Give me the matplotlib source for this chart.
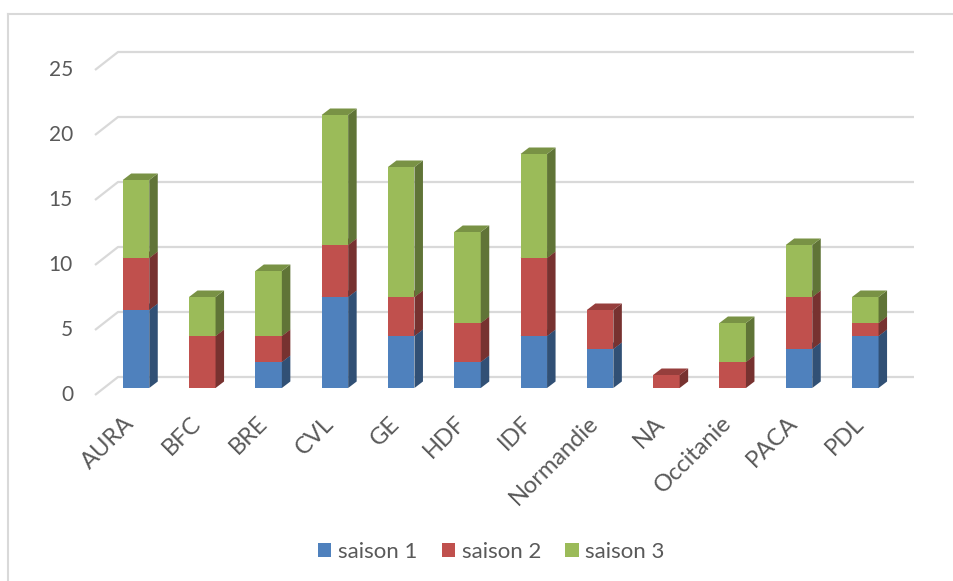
import numpy as np
import matplotlib.pyplot as plt
from matplotlib.patches import Polygon, Rectangle, Patch
from matplotlib.lines import Line2D
import matplotlib.colors as mcolors

plt.rcParams['font.family'] = ['Lato', 'DejaVu Sans']

# data
regions = ['AURA', 'BFC', 'BRE', 'CVL', 'GE', 'HDF', 'IDF', 'Normandie', 'NA',
           'Occitanie', 'PACA', 'PDL']
saison1 = [6, 0, 2, 7, 4, 2, 4, 3, 0, 0, 3, 4]
saison2 = [4, 4, 2, 4, 3, 3, 6, 3, 1, 2, 4, 1]
saison3 = [6, 3, 5, 10, 10, 7, 8, 0, 0, 3, 4, 2]
series_names = ['saison 1', 'saison 2', 'saison 3']
colors = ['#4F81BD', '#C0504D', '#9BBB59']
yticks = [0, 5, 10, 15, 20, 25]

text_col = '#595959'
grid_col = '#D9D9D9'


def shade(c, f):
    r, g, b = mcolors.to_rgb(c)
    return (r * f, g * f, b * f)


# axis setup so that one category step ~ 66 px and one unit ~ 13 px
fig = plt.figure(figsize=(9.54, 5.81), dpi=100)
ax = fig.add_axes([0, 0, 1, 1])
step_px = 66.3
unit_px = 13.0
x0_px = 136.0   # first category centre
y0_px = 388.0   # zero level of bar front
ax.set_xlim(-x0_px / step_px, (954 - x0_px) / step_px)
ax.set_ylim(-(581 - y0_px) / unit_px, y0_px / unit_px)
ax.axis('off')

px = 1.0 / step_px   # one pixel in x data
py = 1.0 / unit_px   # one pixel in y data

# chart frame
ax.add_line(Line2D([(8 - x0_px) * px, 20], [(y0_px - 14) * py] * 2,
                   color=grid_col, lw=1.5))
ax.add_line(Line2D([(8 - x0_px) * px] * 2, [(y0_px - 14) * py, -20],
                   color=grid_col, lw=1.5))

# gridlines on the floor edge / back wall
gx_front = (95 - x0_px) * px
gx_back = (118 - x0_px) * px
gx_end = (914 - x0_px) * px
g_dy_front = -7 * py
g_dy_back = 11 * py
for v in yticks:
    ax.plot([gx_front, gx_back, gx_end],
            [v + g_dy_front, v + g_dy_back, v + g_dy_back],
            color=grid_col, lw=1.6, solid_capstyle='butt', zorder=1)
    ax.text((73 - x0_px) * px, v + g_dy_front, str(v), ha='right',
            va='center', fontsize=15, color=text_col)

# 3D-looking stacked bars
bw = 0.4
ddx = 8.5 * px
ddy = 6.5 * py
x = np.arange(len(regions))
data = [saison1, saison2, saison3]
bottoms = np.zeros(len(regions))
for i, vals in enumerate(data):
    for k in range(len(regions)):
        h = vals[k]
        if h == 0:
            continue
        xl = x[k] - bw / 2
        xr = x[k] + bw / 2
        b = bottoms[k]
        t = b + h
        ax.add_patch(Rectangle((xl, b), bw, h, facecolor=colors[i],
                               edgecolor='none', zorder=3))
        ax.add_patch(Polygon([(xr, b), (xr + ddx, b + ddy), (xr + ddx, t + ddy), (xr, t)],
                             closed=True, facecolor=shade(colors[i], 0.62),
                             edgecolor='none', zorder=3))
        ax.add_patch(Polygon([(xl, t), (xl + ddx, t + ddy), (xr + ddx, t + ddy), (xr, t)],
                             closed=True, facecolor=shade(colors[i], 0.78),
                             edgecolor='none', zorder=3))
    bottoms += np.array(vals)

# category labels
for k, name in enumerate(regions):
    ax.text(x[k] - 5 * px, -32 * py, name, rotation=45, rotation_mode='anchor',
            ha='right', va='center', fontsize=17, color=text_col)

handles = [Patch(facecolor=c, edgecolor='none') for c in colors]
fig.legend(handles, series_names, loc='center', bbox_to_anchor=(0.515, 1 - 552 / 581),
           ncol=3, frameon=False, fontsize=16, handlelength=0.6, handleheight=0.6,
           handletextpad=0.3, columnspacing=1.1, labelcolor=text_col)

fig.savefig('out.png', dpi=100)
